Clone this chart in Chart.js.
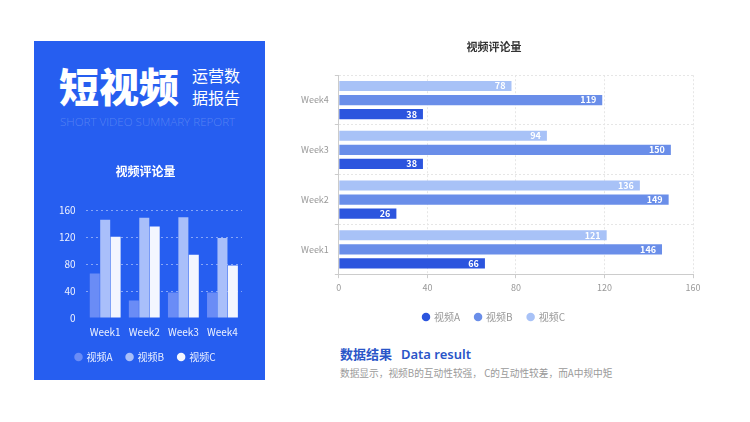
<!DOCTYPE html>
<html>
<head>
<meta charset="utf-8">
<script src="https://cdn.jsdelivr.net/npm/chart.js@4"></script>
<style>
  body { margin: 0; background: #fff; font-family: "Noto Sans CJK SC", "Noto Sans", sans-serif; }
  #page { position: relative; width: 750px; height: 422px; overflow: hidden; }
  #panel { position: absolute; left: 34px; top: 41px; width: 231px; height: 339px; background: #265ef0; }
  .abs { position: absolute; white-space: nowrap; }
</style>
</head>
<body>
<div id="page">
  <div id="panel"></div>
  <div class="abs" style="left:59px;top:58px;font-size:40px;font-weight:900;color:#fff;line-height:54px;">短视频</div>
  <div class="abs" style="left:192px;top:64px;font-size:16px;color:#fff;line-height:22px;">运营数<br>据报告</div>
  <div class="abs" style="left:60px;top:114px;font-size:11.6px;font-family:'Open Sans';font-weight:300;color:rgba(255,255,255,0.22);">SHORT VIDEO SUMMARY REPORT</div>
  <div class="abs" style="left:34px;top:158px;width:231px;height:222px;"><canvas id="leftChart"></canvas></div>
  <div class="abs" style="left:295px;top:36px;width:420px;height:296px;"><canvas id="rightChart"></canvas></div>
  <div class="abs" style="left:340px;top:344px;font-size:13px;font-weight:bold;color:#2a55c8;">数据结果&nbsp;&nbsp;<span style="font-family:'Noto Sans';font-weight:600;margin-left:3px;">Data result</span></div>
  <div class="abs" style="left:340px;top:366px;font-size:9.7px;color:#9a9a9a;">数据显示，视频B的互动性较强， C的互动性较差，而A中规中矩</div>
</div>
<script>
const weeks = ['Week1', 'Week2', 'Week3', 'Week4'];
const videoA = [66, 26, 38, 38];
const videoB = [146, 149, 150, 119];
const videoC = [121, 136, 94, 78];
const valueTicks = [0, 40, 80, 120, 160];

const cjk = '"Noto Sans CJK SC", "Noto Sans", sans-serif';
Chart.defaults.font.family = cjk;

// values written inside the end of each bar
const barLabels = {
  id: 'barLabels',
  afterDatasetsDraw(chart) {
    const ctx = chart.ctx;
    ctx.save();
    ctx.font = 'bold 9px ' + cjk;
    ctx.fillStyle = '#fff';
    ctx.textAlign = 'right';
    ctx.textBaseline = 'middle';
    chart.data.datasets.forEach((ds, i) => {
      chart.getDatasetMeta(i).data.forEach((bar, j) => {
        ctx.fillText(ds.data[j], bar.x - 6, bar.y);
      });
    });
    ctx.restore();
  }
};

new Chart(document.getElementById('leftChart'), {
  type: 'bar',
  data: {
    labels: weeks,
    datasets: [
      { label: '视频A', data: videoA, backgroundColor: '#6a8cf6' },
      { label: '视频B', data: videoB, backgroundColor: '#a9bffa' },
      { label: '视频C', data: videoC, backgroundColor: '#f3f6ff' }
    ]
  },
  options: {
    responsive: true,
    maintainAspectRatio: false,
    animation: false,
    categoryPercentage: 0.8,
    barPercentage: 0.96,
    layout: { padding: { left: 15, right: 23, top: 0, bottom: 8 } },
    plugins: {
      title: { display: true, text: '视频评论量', color: '#fff', font: { size: 12, weight: 'bold' }, padding: { top: 6, bottom: 32 } },
      legend: {
        position: 'bottom',
        labels: { color: '#e8eeff', usePointStyle: true, pointStyle: 'circle', boxWidth: 6, boxHeight: 6, padding: 14, font: { size: 10 } }
      },
      tooltip: { enabled: false }
    },
    scales: {
      x: {
        grid: { display: false },
        border: { display: false },
        ticks: { color: '#eef2ff', font: { size: 10 }, padding: 0 }
      },
      y: {
        min: 0, max: 160,
        afterBuildTicks: axis => { axis.ticks = valueTicks.map(v => ({ value: v })); },
        grid: { color: ctx => ctx.tick.value === 0 ? 'rgba(0,0,0,0)' : 'rgba(255,255,255,0.45)', drawTicks: false },
        border: { display: false, dash: [2, 3] },
        ticks: { color: '#eef2ff', font: { size: 10 }, padding: 10 }
      }
    }
  }
});

new Chart(document.getElementById('rightChart'), {
  type: 'bar',
  data: {
    labels: weeks,
    datasets: [
      { label: '视频C', data: videoC, backgroundColor: '#a8c2f7' },
      { label: '视频B', data: videoB, backgroundColor: '#6a8ee9' },
      { label: '视频A', data: videoA, backgroundColor: '#2c55de' }
    ]
  },
  options: {
    indexAxis: 'y',
    responsive: true,
    maintainAspectRatio: false,
    animation: false,
    categoryPercentage: 0.85,
    barPercentage: 0.72,
    layout: { padding: { left: 0, right: 22, top: 0, bottom: 0 } },
    plugins: {
      title: { display: true, text: '视频评论量', color: '#333', font: { size: 11, weight: 'bold' }, padding: { top: 4, bottom: 22 } },
      legend: {
        position: 'bottom',
        reverse: true,
        labels: { color: '#999', usePointStyle: true, pointStyle: 'circle', boxWidth: 6, boxHeight: 6, padding: 15, font: { size: 10 } }
      },
      tooltip: { enabled: false }
    },
    scales: {
      x: {
        min: 0, max: 160,
        afterBuildTicks: axis => { axis.ticks = valueTicks.map(v => ({ value: v })); },
        grid: { color: '#e6e6e6', tickColor: '#ccc', tickLength: 4 },
        border: { color: '#ccc', dash: [2, 2] },
        ticks: { color: '#999', font: { size: 9 }, padding: 4 }
      },
      y: {
        reverse: true,
        grid: { offset: true, color: '#e6e6e6', tickLength: 4, tickColor: '#ccc' },
        border: { color: '#ccc', dash: [2, 2] },
        ticks: { color: '#999', font: { size: 9 }, padding: 6 }
      }
    }
  },
  plugins: [barLabels]
});
</script>
</body>
</html>
